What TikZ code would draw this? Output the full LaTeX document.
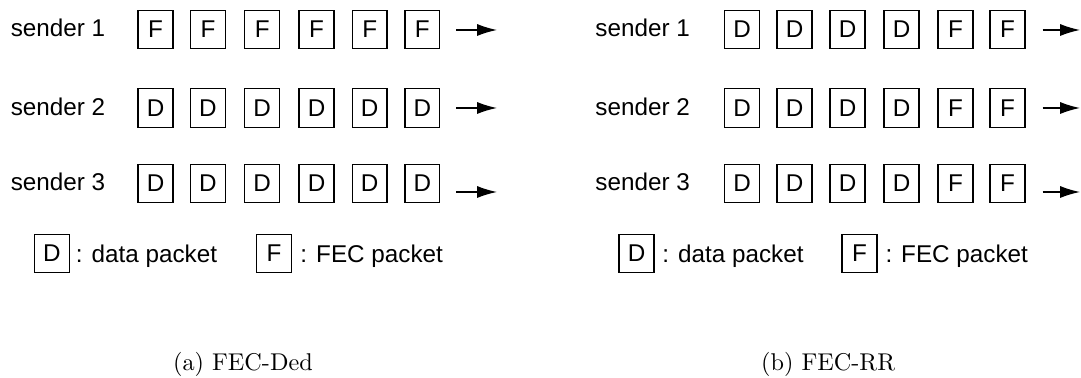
\documentclass[tikz,border=0pt]{standalone}
\usepackage{fontspec}
\newfontfamily\arialfont{Liberation Sans}
\usepackage{tikz}
\usetikzlibrary{arrows.meta}

\tikzset{
  pkt/.style={draw, line width=0.55pt, minimum width=14.4pt, minimum height=15.9pt, inner sep=0pt, font=\arialfont},
  lbl/.style={anchor=base west, inner sep=0pt, font=\arialfont},
  flow/.style={line width=0.55pt, -{Latex[length=8.25pt,width=5pt]}},
  captext/.style={anchor=west, inner sep=0pt},
}

\begin{document}
\begin{tikzpicture}[x=0.4125pt, y=-0.4125pt]
    \useasboundingbox (0,0) rectangle (1081,378);

    % (a) FEC-Ded
    \node[lbl] (da1) at (10.3,37) {sender 1};
    \node[lbl] (da2) at (10.3,115.5) {sender 2};
    \node[lbl] (da3) at (10.3,191) {sender 3};
    \foreach \x [count=\i] in {155.6,208,262.2,316.5,369.7,422.3} {
        \node[pkt] (da1p\i) at (\x,29.5) {F};
        \node[pkt] (da2p\i) at (\x,108) {D};
        \node[pkt] (da3p\i) at (\x,183.5) {D};
    }
    \coordinate (da1o) at (497,30);
    \coordinate (da2o) at (497,108);
    \coordinate (da3o) at (497,192);
    \draw[flow] ([shift={(16,0.5)}]da1p6.east) -- (da1o);
    \draw[flow] ([shift={(16,0)}]da2p6.east) -- (da2o);
    \draw[flow] ([shift={(16,8.5)}]da3p6.east) -- (da3o);

    % legend (a)
    \node[pkt] (daD) at (52,253.5) {D};
    \node[lbl] (daDt) at (75.5,263) {: data packet};
    \node[pkt] (daF) at (274,253.5) {F};
    \node[lbl] (daFt) at (300,263) {: FEC packet};

    \node[captext] (capa) at (172.6,364) {(a) FEC-Ded};

    % (b) FEC-RR
    \node[lbl] (rr1) at (595,37) {sender 1};
    \node[lbl] (rr2) at (595,115.5) {sender 2};
    \node[lbl] (rr3) at (595,191) {sender 3};
    \foreach \x/\t [count=\i] in {742/D,794.5/D,847.5/D,901.5/D,955.5/F,1007.5/F} {
        \node[pkt] (rr1p\i) at (\x,29.5) {\t};
        \node[pkt] (rr2p\i) at (\x,108) {\t};
        \node[pkt] (rr3p\i) at (\x,183.5) {\t};
    }
    \coordinate (rr1o) at (1080,30);
    \coordinate (rr2o) at (1080,108);
    \coordinate (rr3o) at (1080,192);
    \draw[flow] ([shift={(17,0.5)}]rr1p6.east) -- (rr1o);
    \draw[flow] ([shift={(17,0)}]rr2p6.east) -- (rr2o);
    \draw[flow] ([shift={(17,8.5)}]rr3p6.east) -- (rr3o);

    % legend (b)
    \node[pkt] (rrD) at (636.5,253.5) {D};
    \node[lbl] (rrDt) at (662,263) {: data packet};
    \node[pkt] (rrF) at (859.5,253.5) {F};
    \node[lbl] (rrFt) at (885,263) {: FEC packet};

    \node[captext] (capb) at (760.6,364) {(b) FEC-RR};

\end{tikzpicture}
\end{document}
